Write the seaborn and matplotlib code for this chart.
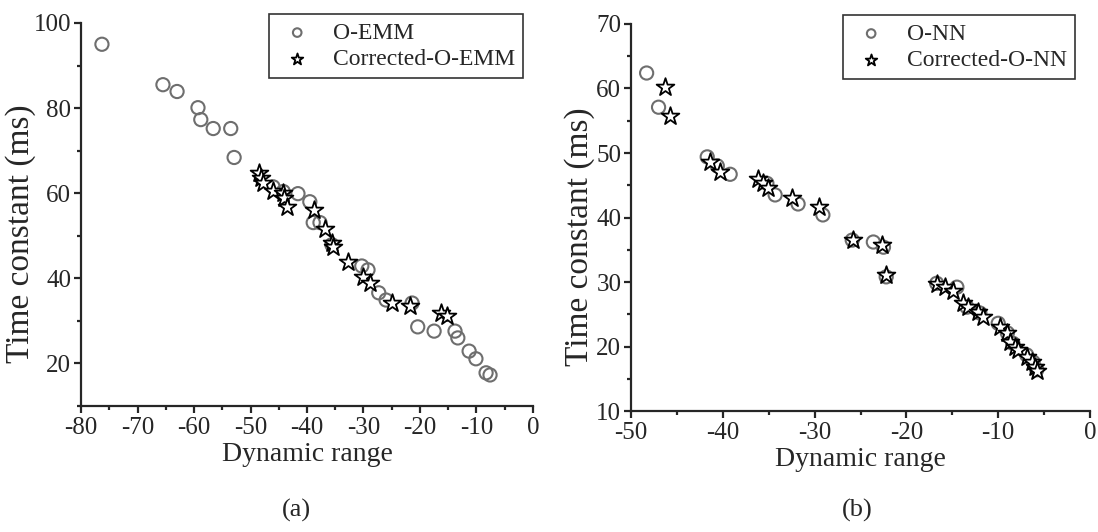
import numpy as np
import pandas as pd
import matplotlib
matplotlib.use("Agg")
import matplotlib.pyplot as plt
import seaborn as sns
from matplotlib.ticker import MultipleLocator

# panel (a) data
emm_x = [-76.3, -65.5, -63.0, -59.3, -58.8, -56.6, -53.5, -52.9, -46.0, -44.2,
         -41.6, -39.5, -38.9, -37.7, -35.6, -30.3, -29.2, -27.3, -26.0, -21.4,
         -20.4, -17.5, -13.8, -13.3, -11.3, -10.1, -8.3, -7.6]
emm_y = [95.0, 85.5, 83.9, 80.1, 77.3, 75.2, 75.2, 68.4, 61.5, 60.4,
         59.9, 58.0, 53.1, 53.1, 47.9, 42.9, 42.0, 36.6, 34.9, 34.2,
         28.6, 27.6, 27.6, 26.0, 22.9, 21.1, 17.8, 17.3]
cemm_x = [-48.5, -48.1, -47.8, -46.0, -44.2, -44.1, -43.5, -38.8, -36.8, -35.6,
          -35.4, -32.7, -30.1, -28.8, -24.9, -21.8, -16.3, -15.2]
cemm_y = [64.8, 63.6, 62.5, 60.6, 60.1, 58.9, 56.8, 56.1, 51.6, 48.4,
          47.4, 43.9, 40.4, 38.9, 34.2, 33.5, 31.9, 31.2]

# panel (b) data
nn_x = [-48.3, -47.0, -41.7, -40.6, -39.2, -35.2, -34.3, -31.8, -29.1, -25.9,
        -23.6, -22.5, -22.2, -16.7, -14.5, -13.4, -12.0, -10.0, -9.0, -8.4,
        -6.9, -6.2, -5.8]
nn_y = [62.4, 57.1, 49.4, 48.0, 46.7, 45.3, 43.5, 42.1, 40.4, 36.5,
        36.2, 35.4, 30.8, 29.8, 29.2, 26.1, 25.2, 23.6, 22.1, 20.5,
        18.7, 17.6, 16.4]
cnn_x = [-46.3, -45.8, -41.4, -40.3, -36.2, -35.6, -35.1, -32.5, -29.5, -25.8,
         -22.7, -22.2, -16.7, -15.8, -14.9, -13.8, -13.3, -12.2, -11.7, -9.8,
         -9.0, -8.7, -8.2, -7.8, -6.9, -6.3, -6.0, -5.8]
cnn_y = [60.2, 55.7, 48.6, 47.1, 46.0, 45.3, 44.6, 43.0, 41.6, 36.5,
         35.7, 31.1, 29.7, 29.2, 28.6, 26.7, 26.1, 25.3, 24.6, 23.0,
         22.1, 20.7, 19.9, 19.5, 18.4, 17.6, 16.8, 16.2]

sns.set_style("ticks")
plt.rcParams['font.family'] = ['Liberation Serif', 'DejaVu Serif']
plt.rcParams['axes.unicode_minus'] = False
plt.rcParams['axes.linewidth'] = 1.6
for k in ['xtick.major.width', 'ytick.major.width', 'xtick.minor.width', 'ytick.minor.width']:
    plt.rcParams[k] = 1.6
plt.rcParams['xtick.major.size'] = 5
plt.rcParams['ytick.major.size'] = 5
plt.rcParams['xtick.minor.size'] = 3
plt.rcParams['ytick.minor.size'] = 3

fig = plt.figure(figsize=(10.98, 5.32), dpi=100)
ax1 = fig.add_axes([0.0738, 0.2368, 0.4116, 0.7200])
ax2 = fig.add_axes([0.5747, 0.2274, 0.4180, 0.7275])


def draw(ax, cx, cy, sx, sy, lab1, lab2, leg_x, ylab_x):
    df_c = pd.DataFrame({'x': cx, 'y': cy})
    df_s = pd.DataFrame({'x': sx, 'y': sy})
    sns.scatterplot(data=df_c, x='x', y='y', ax=ax, marker='o', s=90,
                    facecolor='none', edgecolor='#6e6e6e', linewidth=1.5,
                    label=lab1, zorder=2)
    sns.scatterplot(data=df_s, x='x', y='y', ax=ax, marker='*', s=180,
                    color='white', edgecolor='black', linewidth=1.3,
                    label=lab2, zorder=3)
    sns.despine(ax=ax)
    ax.set_xlabel('Dynamic range', fontsize=20, labelpad=2)
    ax.set_ylabel('Time constant (ms)', fontsize=24)
    ax.yaxis.set_label_coords(ylab_x, 0.45)
    ax.tick_params(labelsize=18)
    ax.tick_params(axis='x', pad=3)
    ax.tick_params(axis='y', pad=2)
    leg = ax.legend(loc='upper right', fontsize=17, frameon=True, fancybox=False,
                    edgecolor='black', handlelength=1.7, handletextpad=0.65,
                    borderpad=0.35, labelspacing=0.2, markerscale=0.65,
                    borderaxespad=0, bbox_to_anchor=(leg_x, 1.0235))
    leg.get_frame().set_linewidth(1.2)


draw(ax1, emm_x, emm_y, cemm_x, cemm_y, 'O-EMM', 'Corrected-O-EMM', 0.978, -0.100)
ax1.set_xlim(-80, 0)
ax1.set_ylim(10, 100)
ax1.xaxis.set_major_locator(MultipleLocator(10))
ax1.xaxis.set_minor_locator(MultipleLocator(5))
ax1.yaxis.set_major_locator(MultipleLocator(20))
ax1.yaxis.set_minor_locator(MultipleLocator(10))

draw(ax2, nn_x, nn_y, cnn_x, cnn_y, 'O-NN', 'Corrected-O-NN', 0.967, -0.078)
ax2.set_xlim(-50, 0)
ax2.set_ylim(10, 70)
ax2.xaxis.set_major_locator(MultipleLocator(10))
ax2.xaxis.set_minor_locator(MultipleLocator(5))
ax2.yaxis.set_major_locator(MultipleLocator(10))
ax2.yaxis.set_minor_locator(MultipleLocator(5))

fig.text(296 / 1098, 1 - 510 / 532, '(a)', fontsize=19, ha='center', va='center')
fig.text(857 / 1098, 1 - 510 / 532, '(b)', fontsize=19, ha='center', va='center')

fig.savefig('out.png', dpi=100)
